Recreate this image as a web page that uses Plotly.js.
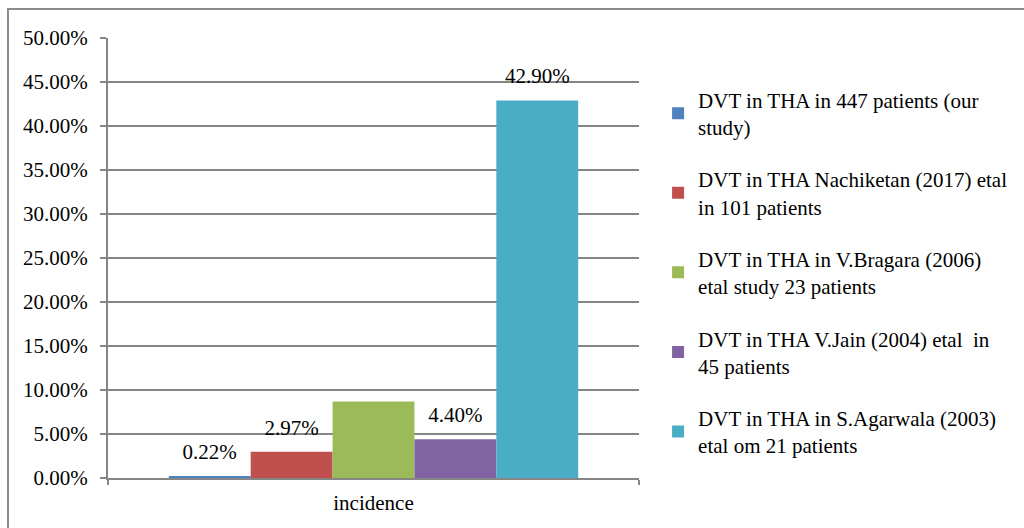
<!DOCTYPE html>
<html>
<head>
<meta charset="utf-8">
<script src="https://cdn.plot.ly/plotly-3.0.1.min.js"></script>
<style>
  html, body { margin: 0; padding: 0; background: #fff; }
  #frame { position: absolute; left: 7px; top: 8px; width: 1040px; height: 540px; border-left: 2px solid #8c8c8c; border-top: 2px solid #8c8c8c; box-sizing: border-box; }
  #chart { position: absolute; left: 0; top: 0; width: 1024px; height: 528px; }
</style>
</head>
<body>
<div id="frame"></div>
<div id="chart"></div>
<script>
const categories = ["incidence"];
const seriesNames = [
  "DVT in THA in 447 patients (our<br>study)",
  "DVT in THA Nachiketan (2017) etal<br>in 101 patients",
  "DVT in THA in V.Bragara (2006)<br>etal study 23 patients",
  "DVT in THA V.Jain (2004) etal  in<br>45 patients",
  "DVT in THA in S.Agarwala (2003)<br>etal om 21 patients"
];
const seriesValues = [0.0022, 0.0297, 0.087, 0.044, 0.429];
const showLabel = [true, true, false, true, true];
const colors = ["#4F81BD", "#C0504D", "#9BBB59", "#8064A2", "#4BACC6"];
const yTickVals = [0, 0.05, 0.10, 0.15, 0.20, 0.25, 0.30, 0.35, 0.40, 0.45, 0.50];

const FONT = "Liberation Serif";
const labelOffset = 0.0255;

const traces = [];
seriesNames.forEach((name, i) => {
  traces.push({
    type: "bar",
    x: categories,
    y: [seriesValues[i]],
    name: name,
    marker: { color: colors[i] },
    offsetgroup: "g" + i,
    legendgroup: "g" + i,
    hoverinfo: "skip"
  });
});
seriesNames.forEach((name, i) => {
  traces.push({
    type: "scatter",
    mode: "text",
    x: categories,
    y: [seriesValues[i] + labelOffset],
    text: [showLabel[i] ? (seriesValues[i] * 100).toFixed(2) + "%" : ""],
    textposition: "middle center",
    textfont: { family: FONT, size: 21, color: "#000" },
    offsetgroup: "g" + i,
    showlegend: false,
    hoverinfo: "skip",
    cliponaxis: false
  });
});

const layout = {
  width: 1024,
  height: 528,
  margin: { l: 108, r: 384, t: 38, b: 50 },
  paper_bgcolor: "rgba(0,0,0,0)",
  plot_bgcolor: "rgba(0,0,0,0)",
  font: { family: FONT, size: 21, color: "#000" },
  barmode: "group",
  scattermode: "group",
  bargap: 0.229,
  bargroupgap: 0,
  showlegend: true,
  legend: {
    x: 1.034, xanchor: "left",
    y: 0.906, yanchor: "top",
    traceorder: "grouped",
    tracegroupgap: 22,
    font: { family: FONT, size: 21, color: "#000" },
    bgcolor: "rgba(0,0,0,0)"
  },
  xaxis: {
    type: "category",
    showline: true, linecolor: "#868686", linewidth: 2,
    ticks: "outside", tickson: "boundaries", ticklen: 5, tickcolor: "#868686", tickwidth: 2,
    ticklabelstandoff: 5,
    showgrid: false, zeroline: false,
    tickfont: { family: FONT, size: 21 },
    fixedrange: true
  },
  yaxis: {
    range: [0, 0.5],
    tickvals: yTickVals,
    tickformat: ".2%",
    showline: true, linecolor: "#868686", linewidth: 2,
    ticks: "outside", ticklen: 6, tickcolor: "#868686", tickwidth: 2,
    ticklabelstandoff: 8,
    showgrid: true, gridcolor: "#868686", gridwidth: 2,
    zeroline: false,
    tickfont: { family: FONT, size: 21 },
    fixedrange: true
  }
};

Plotly.newPlot("chart", traces, layout, { staticPlot: true, displayModeBar: false });
</script>
</body>
</html>
